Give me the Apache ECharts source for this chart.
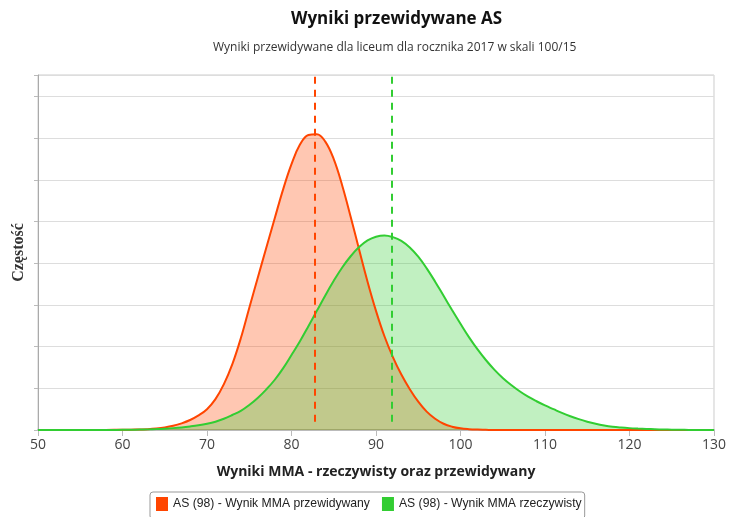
<!DOCTYPE html>
<html>
<head>
<meta charset="utf-8">
<script src="https://cdn.jsdelivr.net/npm/echarts@6/dist/echarts.min.js"></script>
<style>
  html, body { margin: 0; padding: 0; background: #fff; }
  #main { width: 729px; height: 517px; }
</style>
</head>
<body>
<div id="main"></div>
<script>
// (wynik, czestosc)
var predX = [50, 55, 58, 60, 61, 62, 63, 64, 65, 66, 67, 68, 69, 70, 71, 72, 73, 74, 75, 76, 77, 78, 79, 80, 81, 82, 83, 84, 85, 86, 87, 88, 89, 90, 91, 92, 93, 94, 95, 96, 97, 98, 99, 100, 101, 102, 103, 104, 106, 110, 130]
var predY = [0, 0, 0.002, 0.005, 0.008, 0.013, 0.02, 0.035, 0.06, 0.1, 0.16, 0.24, 0.35, 0.5, 0.74, 1.1, 1.58, 2.2, 2.93, 3.65, 4.36, 5.07, 5.77, 6.38, 6.85, 7.08, 7.1, 6.92, 6.5, 5.87, 5.12, 4.33, 3.56, 2.86, 2.25, 1.75, 1.33, 0.98, 0.68, 0.44, 0.27, 0.15, 0.08, 0.04, 0.02, 0.01, 0.005, 0, 0, 0, 0]
var realX = [50, 58, 60, 61, 62, 63, 64, 65, 66, 67, 68, 69, 70, 71, 72, 73, 74, 75, 76, 77, 78, 79, 80, 81, 82, 83, 84, 85, 86, 87, 88, 89, 90, 91, 92, 93, 94, 95, 96, 97, 98, 99, 100, 101, 102, 103, 104, 105, 106, 107, 108, 109, 110, 111, 112, 113, 114, 115, 116, 117, 118, 119, 120, 121, 122, 123, 124, 125, 126, 127, 128, 130]
var realY = [0, 0, 0.004, 0.006, 0.01, 0.015, 0.022, 0.032, 0.045, 0.062, 0.085, 0.113, 0.15, 0.2, 0.27, 0.36, 0.46, 0.6, 0.77, 0.97, 1.2, 1.48, 1.8, 2.13, 2.49, 2.86, 3.23, 3.58, 3.9, 4.17, 4.39, 4.55, 4.64, 4.67, 4.63, 4.54, 4.38, 4.16, 3.88, 3.56, 3.22, 2.88, 2.55, 2.23, 1.94, 1.68, 1.45, 1.25, 1.08, 0.93, 0.8, 0.69, 0.59, 0.5, 0.41, 0.33, 0.26, 0.2, 0.15, 0.11, 0.08, 0.06, 0.045, 0.034, 0.025, 0.018, 0.012, 0.008, 0.005, 0.002, 0, 0]
var predMean = 82.7
var realMean = 91.9
var names = ['AS (98) - Wynik MMA przewidywany', 'AS (98) - Wynik MMA rzeczywisty']

function pairs(xs, ys) {
    var out = []
    xs.forEach(function (x, i) { out.push([x, ys[i]]) })
    return out
}

function meanLine(x, color) {
    return {
        silent: true,
        symbol: 'none',
        label: { show: false },
        lineStyle: { color: color, type: [7, 6], width: 2 },
        data: [[{ coord: [x, 0.2] }, { coord: [x, 8.52] }]]
    }
}

var myChart = echarts.init(document.getElementById('main'))

var option = {
    animation: false,
    title: [
        {
            text: 'Wyniki przewidywane AS',
            left: 286,
            top: 6,
            textStyle: { fontFamily: 'Open Sans', fontSize: 17, fontWeight: 'bold', color: '#111' }
        },
        {
            text: 'Wyniki przewidywane dla liceum dla rocznika 2017 w skali 100/15',
            left: 208,
            top: 37,
            textStyle: { fontFamily: 'Open Sans', fontSize: 12, fontWeight: 'normal', color: '#333' }
        }
    ],
    legend: {
        data: names,
        left: 150,
        top: 492,
        icon: 'rect',
        itemWidth: 12,
        itemHeight: 14,
        itemGap: 12,
        borderColor: '#999',
        borderWidth: 1,
        borderRadius: 3,
        padding: [5, 3, 8, 6],
        textStyle: { fontFamily: 'Liberation Sans', fontSize: 12.2, color: '#222' }
    },
    grid: {
        left: 38, right: 13, top: 75, bottom: 87,
        show: true, borderColor: '#ccc', borderWidth: 1
    },
    xAxis: {
        type: 'value',
        min: 50, max: 130, interval: 10,
        name: 'Wyniki MMA - rzeczywisty oraz przewidywany',
        nameLocation: 'middle',
        nameGap: 35,
        nameTextStyle: { fontFamily: 'Open Sans', fontSize: 14, fontWeight: 'bold', color: '#222' },
        axisLine: { lineStyle: { color: '#bbb', width: 2 } },
        axisTick: { length: 6, lineStyle: { color: '#bbb' } },
        axisLabel: { fontFamily: 'Liberation Sans Narrow, Open Sans', fontSize: 14, color: '#444', margin: 8 },
        splitLine: { show: false }
    },
    yAxis: {
        type: 'value',
        min: 0, max: 8.52, interval: 1,
        name: 'Częstość',
        nameLocation: 'middle',
        nameGap: 11,
        nameTextStyle: { fontFamily: 'Liberation Serif', fontSize: 16, fontWeight: 'bold', color: '#333' },
        axisLine: { show: true, lineStyle: { color: '#aaa' } },
        axisTick: { show: true, length: 4, lineStyle: { color: '#bbb' } },
        axisLabel: { show: false },
        splitLine: { lineStyle: { color: '#ddd' } }
    },
    series: [
        {
            name: names[0],
            type: 'line',
            data: pairs(predX, predY),
            smooth: 0.4,
            showSymbol: false,
            color: '#ff4500',
            lineStyle: { width: 2, color: '#ff4500' },
            areaStyle: { color: '#ff4500', opacity: 0.3 },
            markLine: meanLine(predMean, '#ff4500'),
            z: 3
        },
        {
            name: names[1],
            type: 'line',
            data: pairs(realX, realY),
            smooth: 0.4,
            showSymbol: false,
            color: '#32cd32',
            lineStyle: { width: 2, color: '#32cd32' },
            areaStyle: { color: '#32cd32', opacity: 0.3 },
            markLine: meanLine(realMean, '#32cd32'),
            z: 3
        }
    ]
}

myChart.setOption(option)
</script>
</body>
</html>
